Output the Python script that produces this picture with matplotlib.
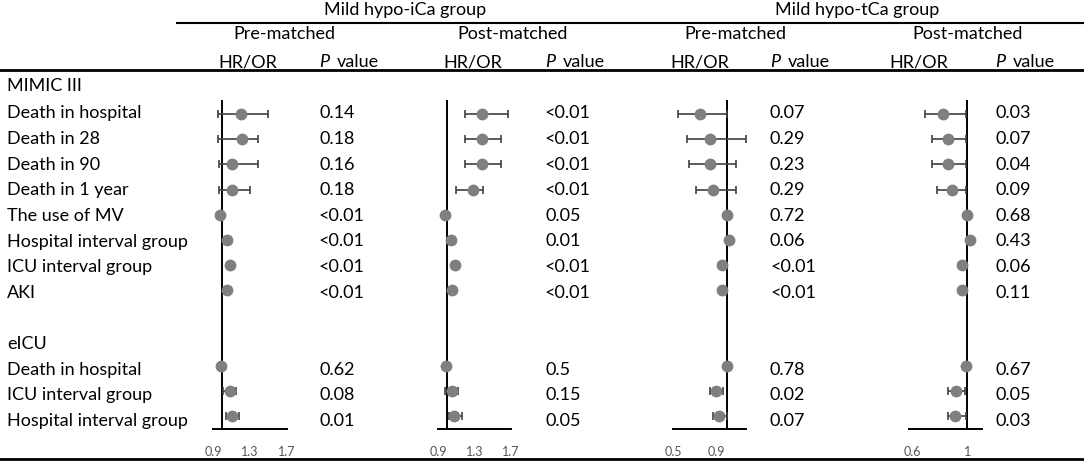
import matplotlib.pyplot as plt
import numpy as np

plt.rcParams['font.family'] = ['Lato', 'DejaVu Sans']

W, H = 1084, 463
nan = np.nan

# table rows (index 0 = first line under the header)
row_labels = ["MIMIC III", "Death in hospital", "Death in 28", "Death in 90",
              "Death in 1 year", "The use of MV", "Hospital interval group",
              "ICU interval group", "AKI", "", "eICU", "Death in hospital",
              "ICU interval group", "Hospital interval group"]
outcome_rows = [1, 2, 3, 4, 5, 6, 7, 8, 11, 12, 13]

# Mild hypo-iCa, pre-matched
ica_pre_hr = [1.20, 1.21, 1.10, 1.11, 0.98, 1.05, 1.08, 1.05, 0.99, 1.08, 1.10]
ica_pre_lo = [0.95, 0.95, 0.96, 0.96, nan, nan, nan, nan, nan, 1.01, 1.04]
ica_pre_hi = [1.49, 1.39, 1.39, 1.30, nan, nan, nan, nan, nan, 1.15, 1.18]
ica_pre_p = ["0.14", "0.18", "0.16", "0.18", "<0.01", "<0.01", "<0.01", "<0.01",
             "0.62", "0.08", "0.01"]

# Mild hypo-iCa, post-matched
ica_post_hr = [1.38, 1.38, 1.38, 1.28, 0.98, 1.04, 1.09, 1.05, 0.99, 1.05, 1.08]
ica_post_lo = [1.20, 1.20, 1.20, 1.10, nan, nan, nan, nan, nan, 0.98, 1.02]
ica_post_hi = [1.67, 1.59, 1.59, 1.39, nan, nan, nan, nan, nan, 1.12, 1.16]
ica_post_p = ["<0.01", "<0.01", "<0.01", "<0.01", "0.05", "0.01", "<0.01", "<0.01",
              "0.5", "0.15", "0.05"]

# Mild hypo-tCa, pre-matched
tca_pre_hr = [0.75, 0.84, 0.84, 0.87, 1.00, 1.02, 0.96, 0.96, 1.00, 0.90, 0.93]
tca_pre_lo = [0.55, 0.63, 0.65, 0.71, nan, nan, nan, nan, nan, 0.84, 0.87]
tca_pre_hi = [1.00, 1.18, 1.09, 1.09, nan, nan, nan, nan, nan, 0.97, 1.00]
tca_pre_p = ["0.07", "0.29", "0.23", "0.29", "0.72", "0.06", "<0.01", "<0.01",
             "0.78", "0.02", "0.07"]

# Mild hypo-tCa, post-matched
tca_post_hr = [0.82, 0.86, 0.86, 0.89, 1.00, 1.02, 0.96, 0.96, 0.99, 0.92, 0.91]
tca_post_lo = [0.69, 0.74, 0.74, 0.78, nan, nan, nan, nan, nan, 0.86, 0.86]
tca_post_hi = [0.99, 0.99, 0.99, 0.99, nan, nan, nan, nan, nan, 0.98, 0.99]
tca_post_p = ["0.03", "0.07", "0.04", "0.09", "0.68", "0.43", "0.06", "0.11",
              "0.67", "0.05", "0.03"]

groups = ["Mild hypo-iCa group", "Mild hypo-tCa group"]
sub_titles = ["Pre-matched", "Post-matched", "Pre-matched", "Post-matched"]
tick_vals = [[0.9, 1.3, 1.7], [0.9, 1.3, 1.7], [0.5, 0.9], [0.6, 1.0]]
tick_text = [["0.9", "1.3", "1.7"], ["0.9", "1.3", "1.7"], ["0.5", "0.9"], ["0.6", "1"]]

panels = [
    (ica_pre_hr, ica_pre_lo, ica_pre_hi, ica_pre_p),
    (ica_post_hr, ica_post_lo, ica_post_hi, ica_post_p),
    (tca_pre_hr, tca_pre_lo, tca_pre_hi, tca_pre_p),
    (tca_post_hr, tca_post_lo, tca_post_hi, tca_post_p),
]

# layout, in pixels of the 1084x463 picture
axis_x = [(213, 287), (438, 511), (673, 746), (909, 982)]
xlims = [(0.902, 1.683), (0.911, 1.68), (0.53, 1.18), (0.577, 1.105)]
hr_x = [248, 473, 700, 919]
p_x = [319, 545, 770, 995]
sub_x = [284, 513, 735, 968]
group_x = [405, 857]
plot_top, plot_bot = 100, 429
FS = 13


def text_y(i):
    if i == 0:
        return 86
    return 113.3 + 25.64 * (i - 1)


fig = plt.figure(figsize=(W / 100, H / 100), dpi=100)
bg = fig.add_axes([0, 0, 1, 1])
bg.set_xlim(0, W)
bg.set_ylim(H, 0)
bg.axis('off')

# rules
bg.plot([177, W], [22.7, 22.7], color='black', lw=1.5)
bg.plot([0, W], [70, 70], color='black', lw=2.0)
bg.plot([0, W], [459, 459], color='black', lw=2.0)

for g, gx in zip(groups, group_x):
    bg.text(gx, 10, g, ha='center', va='center', fontsize=FS)
for k in range(4):
    bg.text(sub_x[k], 34, sub_titles[k], ha='center', va='center', fontsize=FS)
    bg.text(hr_x[k], 62, "HR/OR", ha='center', va='center', fontsize=FS)
    bg.text(p_x[k], 62, "P", ha='left', va='center', fontsize=FS, style='italic')
    bg.text(p_x[k] + 18, 62, "value", ha='left', va='center', fontsize=FS)

for i, lab in enumerate(row_labels):
    if lab:
        bg.text(7, text_y(i), lab, ha='left', va='center', fontsize=FS)

for k, (hr, lo, hi, pv) in enumerate(panels):
    hr = np.array(hr)
    lo = np.array(lo)
    hi = np.array(hi)
    ys = np.array(outcome_rows, dtype=float)

    for r, p in zip(outcome_rows, pv):
        bg.text(p_x[k], text_y(r), p, ha='left', va='center', fontsize=FS)

    x0, x1 = axis_x[k]
    ax = fig.add_axes([x0 / W, 1 - plot_bot / H, (x1 - x0) / W, (plot_bot - plot_top) / H])
    ax.patch.set_alpha(0)
    ax.set_xlim(*xlims[k])
    ax.set_ylim(13.496, 0.444)
    ax.axvline(1.0, color='black', lw=1.4, zorder=1)

    m = ~np.isnan(lo)
    ax.errorbar(hr[m], ys[m], xerr=[hr[m] - lo[m], hi[m] - hr[m]], fmt='none',
                ecolor='#404040', elinewidth=1.2, capsize=3, capthick=1.2, zorder=2)
    ax.plot(hr, ys, 'o', color='#7f7f7f', ms=8.5, mew=0, zorder=3, clip_on=False)

    for s in ['top', 'right', 'left']:
        ax.spines[s].set_visible(False)
    ax.spines['bottom'].set_linewidth(1.4)
    ax.set_yticks([])
    ax.set_xticks(tick_vals[k], tick_text[k])
    ax.tick_params(axis='x', length=0, pad=12, labelsize=9, labelcolor='#555555')

fig.savefig('out.png', dpi=100)
